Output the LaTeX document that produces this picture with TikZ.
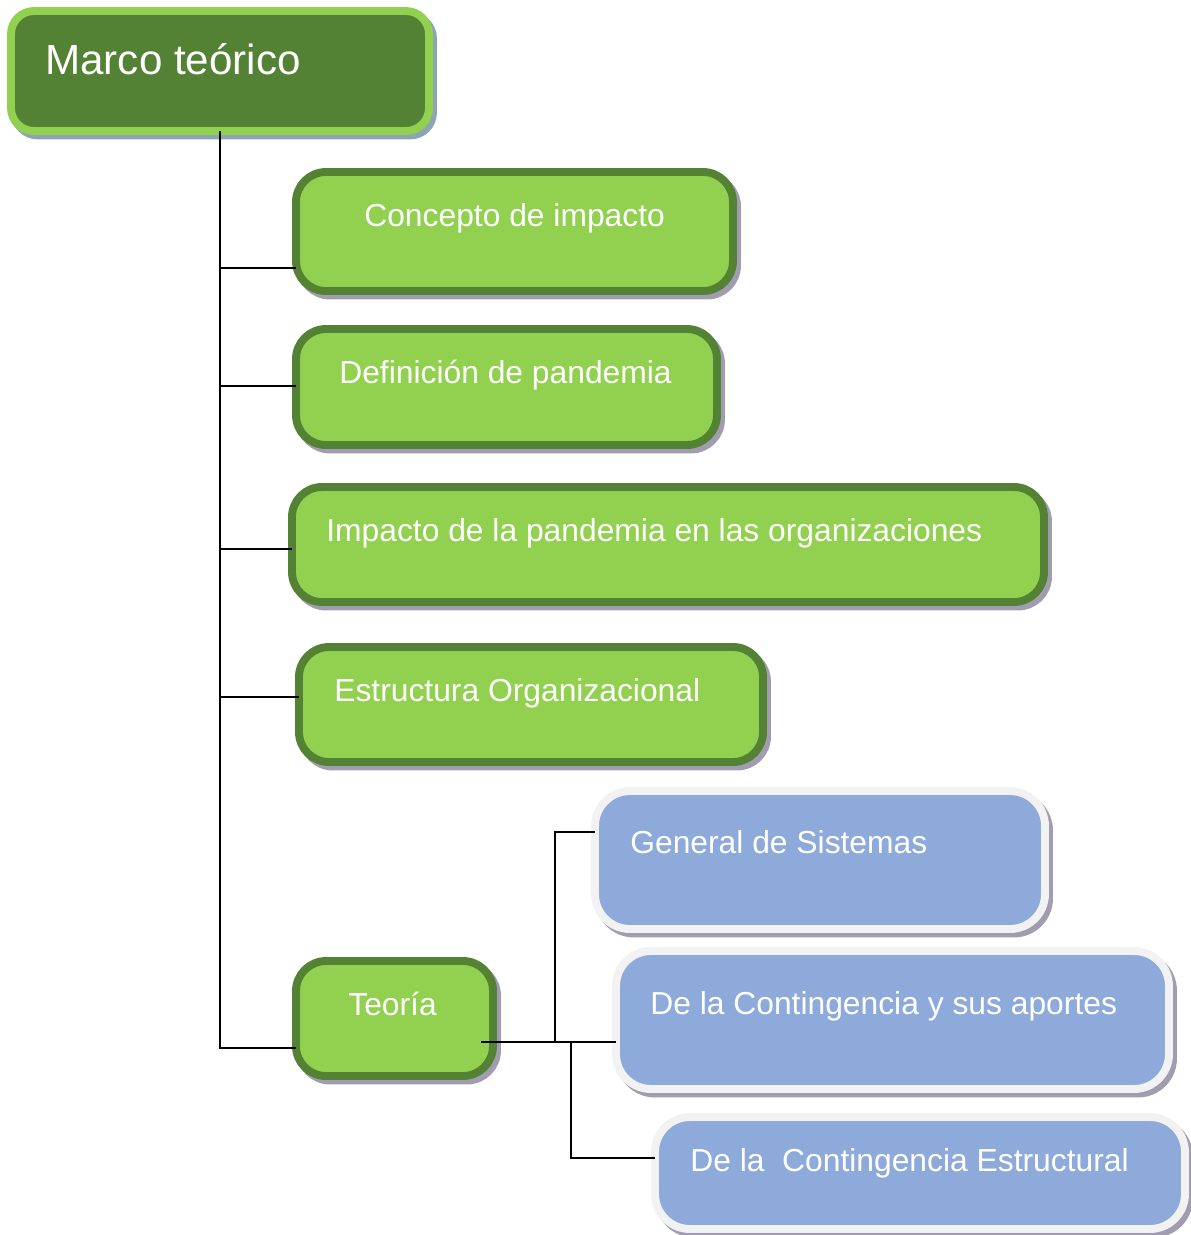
\documentclass[tikz,border=0pt]{standalone}
\usepackage{fontspec}
\setmainfont{Liberation Sans}
\usetikzlibrary{shadows}
\definecolor{dkgreen}{RGB}{84,130,53}
\definecolor{ltgreen}{RGB}{146,208,80}
\definecolor{bluefill}{RGB}{142,170,219}
\definecolor{blueedge}{RGB}{242,242,242}
\definecolor{shadowgray}{RGB}{161,156,176}
\definecolor{shadowblue}{RGB}{140,165,180}
\tikzset{
  boxbase/.style={rectangle, outer sep=0pt, inner sep=0pt, line width=4.5pt},
  topbox/.style={boxbase, draw=ltgreen, fill=dkgreen, rounded corners=0.46cm,
    drop shadow={shadow xshift=0.08cm, shadow yshift=-0.09cm, fill=shadowblue, draw=shadowblue, line width=4.5pt, opacity=1}},
  greenbox/.style={boxbase, draw=dkgreen, fill=ltgreen, rounded corners=0.6cm,
    drop shadow={shadow xshift=0.08cm, shadow yshift=-0.09cm, fill=shadowgray, draw=shadowgray, line width=4.5pt, opacity=1}},
  bluebox/.style={boxbase, draw=blueedge, fill=bluefill, rounded corners=0.7cm,
    drop shadow={shadow xshift=0.08cm, shadow yshift=-0.09cm, fill=shadowgray, draw=shadowgray, line width=4.5pt, opacity=1}},
  lbl/.style={anchor=base west, inner sep=0pt, text=white, font=\fontsize{18.1pt}{22pt}\selectfont},
  biglbl/.style={anchor=base west, inner sep=0pt, text=white, font=\fontsize{24pt}{28pt}\selectfont},
  conn/.style={draw=black, line width=1.1pt}
}
\begin{document}
\begin{tikzpicture}[x=0.02cm, y=-0.02cm]
\useasboundingbox (0,0) rectangle (1191,1235);

% boxes
\node[topbox, minimum width=418*0.02cm, minimum height=120*0.02cm] (top) at (220,71) {};
\node[greenbox, minimum width=437*0.02cm, minimum height=119*0.02cm] (concepto) at (514.5,231.5) {};
\node[greenbox, minimum width=421*0.02cm, minimum height=116*0.02cm] (definicion) at (506.5,387) {};
\node[greenbox, minimum width=752*0.02cm, minimum height=115*0.02cm] (impacto) at (668,544.5) {};
\node[greenbox, minimum width=464*0.02cm, minimum height=115*0.02cm] (estructura) at (531,704.5) {};
\node[greenbox, minimum width=197*0.02cm, minimum height=115*0.02cm] (teoria) at (394.5,1018.5) {};
\node[bluebox, minimum width=450*0.02cm, minimum height=138*0.02cm] (general) at (820,860) {};
\node[bluebox, minimum width=553*0.02cm, minimum height=138*0.02cm] (aportes) at (892.5,1020) {};
\node[bluebox, minimum width=530*0.02cm, minimum height=112*0.02cm] (estructural) at (920,1173) {};

% texts
\node[biglbl] (tmarco) at (45,74) {Marco teórico};
\node[lbl] (tconcepto) at (364,226) {Concepto de impacto};
\node[lbl] (tdefinicion) at (339,383) {Definición de pandemia};
\node[lbl] (timpacto) at (326,541) {Impacto de la pandemia en las organizaciones};
\node[lbl] (testructura) at (334,701) {Estructura Organizacional};
\node[lbl] (tteoria) at (348,1015) {Teoría};
\node[lbl] (tgeneral) at (630,853) {General de Sistemas};
\node[lbl] (taportes) at (650,1014) {De la Contingencia y sus aportes};
\node[lbl] (testructural) at (690,1171) {De la\ \ Contingencia Estructural};

% junction coordinates
\coordinate (j1) at (220,268);
\coordinate (j2) at (220,386);
\coordinate (j3) at (220,549);
\coordinate (j4) at (220,697);
\coordinate (j5) at (220,1048);
\coordinate (k0) at (555,1042);
\coordinate (k1) at (555,832);
\coordinate (k2) at (571,1042);
\coordinate (k3) at (571,1158);

% connectors
\draw[conn] (top.south) -- (j5) -- (j5 -| teoria.west);
\draw[conn] (j1) -- (j1 -| concepto.west);
\draw[conn] (j2) -- (j2 -| definicion.west);
\draw[conn] (j3) -- (j3 -| impacto.west);
\draw[conn] (j4) -- (j4 -| estructura.west);
\draw[conn] ([xshift=-0.24cm]teoria.east |- k0) -- (k0 -| aportes.west);
\draw[conn] (k0) -- (k1) -- (k1 -| general.west);
\draw[conn] (k2) -- (k3) -- (k3 -| estructural.west);
\end{tikzpicture}
\end{document}
